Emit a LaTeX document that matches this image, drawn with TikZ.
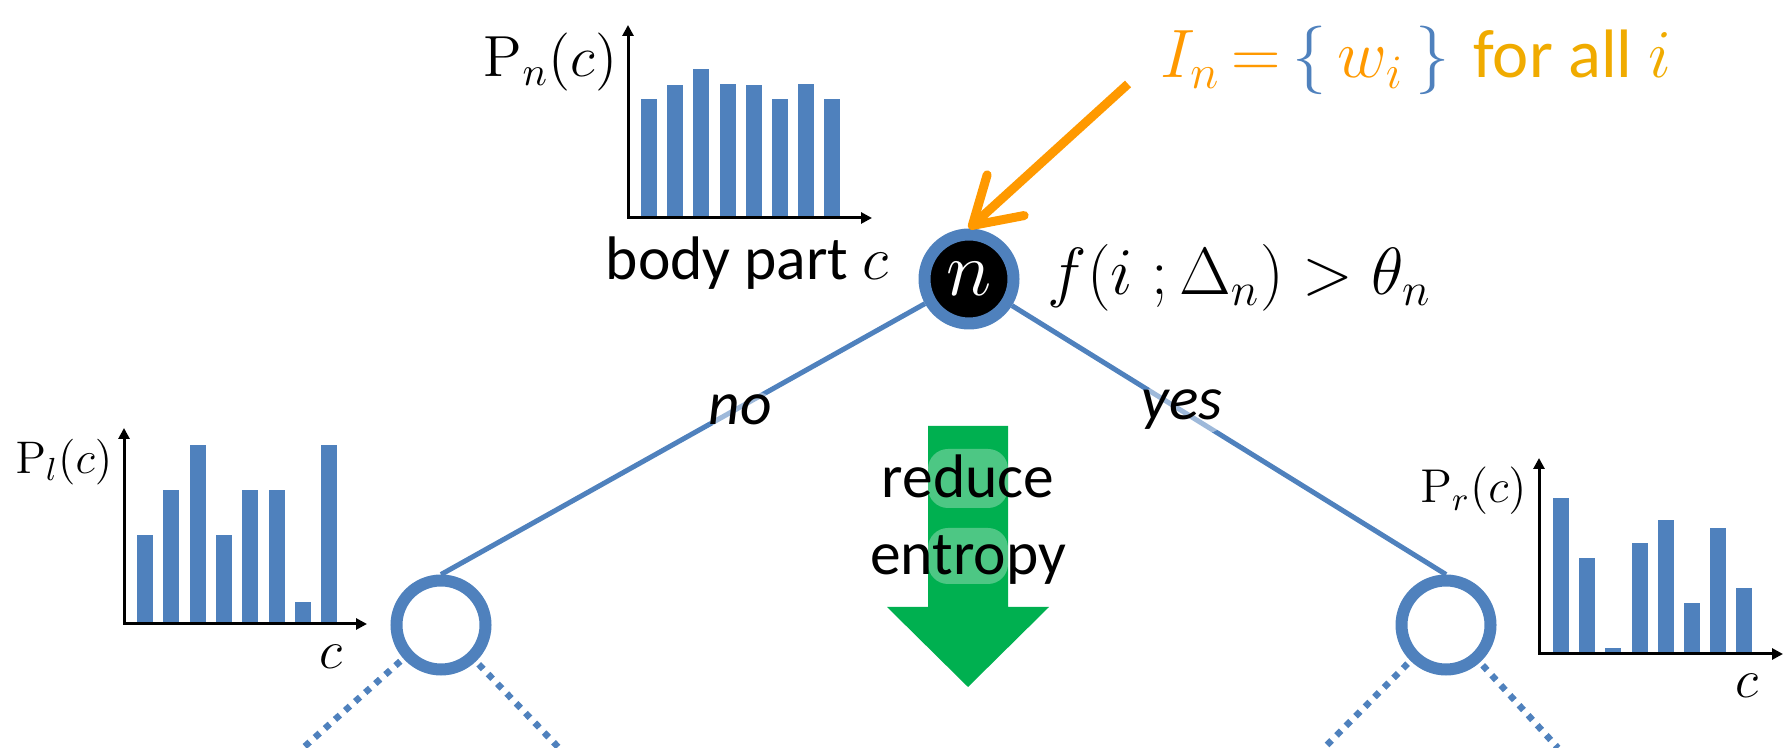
\RequirePackage{fix-cm}
\documentclass[tikz,border=0pt]{standalone}
\usepackage[no-math]{fontspec}
\setmainfont{Carlito}
\usetikzlibrary{arrows.meta}
\definecolor{nodeblue}{HTML}{4F81BD}
\definecolor{inorange}{HTML}{FF9900}
\definecolor{allamber}{HTML}{F0AB00}
\definecolor{entgreen}{HTML}{00B050}
\tikzset{
  treenode/.style={circle, draw=nodeblue, line width=1.2mm, minimum size=8.9mm, inner sep=0pt},
  branch/.style={nodeblue, line width=0.5mm},
  dotedge/.style={nodeblue, line width=0.65mm, dash pattern=on 0.65mm off 0.7mm, shorten <=0.4mm},
  histbar/.style={fill=nodeblue},
  histaxis/.style={line width=0.3mm},
  lbl/.style={inner sep=0pt},
  glow/.style={fill=white, fill opacity=0.45, text opacity=1, inner sep=1pt, rounded corners=2mm},
}
\begin{document}
\begin{tikzpicture}[x=0.1mm, y=-0.1mm, >={Triangle[length=1.1mm,width=1.1mm]}]
\useasboundingbox (0,0) rectangle (1788,748);
% histograms
\foreach \h [count=\k from 0] in {119,133,149,134,133,119,134,119}
  \fill[histbar] ({641+26.2*\k},218) rectangle ++(16,-\h);
\draw[histaxis,<->] (628,25) -- (628,218) -- (872,218);
\foreach \h [count=\k from 0] in {89,134,179,89,134,134,22,179}
  \fill[histbar] ({137+26.3*\k},624) rectangle ++(16,-\h);
\draw[histaxis,<->] (124,428) -- (124,624) -- (367,624);
\foreach \h [count=\k from 0] in {156,96,6,111,134,51,126,66}
  \fill[histbar] ({1553+26.2*\k},654) rectangle ++(16,-\h);
\draw[histaxis,<->] (1539,458) -- (1539,654) -- (1783,654);
\node[lbl, anchor=base east, font=\fontsize{16.5}{20}\selectfont] (lblPn) at (618,77) {$\mathrm{P}_n(c)$};
\node[lbl, anchor=base, font=\fontsize{17.5}{21}\selectfont] (lblBody) at (747,280) {body part $c$};
\node[lbl, anchor=base east, font=\fontsize{13}{16}\selectfont] (lblPl) at (113,474) {$\mathrm{P}_l(c)$};
\node[lbl, font=\fontsize{15.5}{18}\selectfont] (lblCl) at (331,657) {$c$};
\node[lbl, anchor=base east, font=\fontsize{13.5}{16}\selectfont] (lblPr) at (1527,503) {$\mathrm{P}_r(c)$};
\node[lbl, font=\fontsize{15.5}{18}\selectfont] (lblCr) at (1747,686) {$c$};
% reduce entropy arrow
\fill[entgreen] (928,426) -- (1008,426) -- (1008,607) -- (1049,607) -- (968,687) -- (887,607) -- (928,607) -- cycle;
\fill[white, opacity=0.3, rounded corners=2mm] (928,449) rectangle (1008,508);
\fill[white, opacity=0.3, rounded corners=2mm] (928,528) rectangle (1008,584);
\node[lbl, anchor=base, font=\fontsize{17.5}{21}\selectfont] (lblReduce) at (968,498) {reduce};
\node[lbl, anchor=base, font=\fontsize{17.5}{21}\selectfont] (lblEntropy) at (968,575) {entropy};
% tree
\node[treenode, fill=black, text=white, font=\fontsize{22}{26}\selectfont] (nodeN) at (969,279) {$n$};
\node[treenode] (nodeL) at (441,625) {};
\node[treenode] (nodeR) at (1446,625) {};
\draw[branch] (nodeN) -- (nodeL.north);
\draw[branch] (nodeN) -- (nodeR.north);
\coordinate (LL) at (303,748);
\coordinate (LR) at (559,748);
\coordinate (RL) at (1324,748);
\coordinate (RR) at (1558,748);
\draw[dotedge] (nodeL) -- (LL);
\draw[dotedge] (nodeL) -- (LR);
\draw[dotedge] (nodeR) -- (RL);
\draw[dotedge] (nodeR) -- (RR);
\node[glow, font=\fontsize{17.5}{21}\selectfont\itshape] (lblNo) at (740,410) {no};
\node[glow, font=\fontsize{17.5}{21}\selectfont\itshape] (lblYes) at (1182,410) {yes};
% split test and input
\node[lbl, anchor=base west, font=\fontsize{19}{23}\selectfont] (lblSplit) at (1047,295) {$f(i\;;\Delta_n)>\theta_n$};
\node[lbl, anchor=base west, font=\fontsize{19.5}{23}\selectfont] (lblIn) at (1160,78)
  {\textcolor{inorange}{$I_n\mkern3mu{=}\mkern3mu\textcolor{nodeblue}{\big\{}\,w_i\,\textcolor{nodeblue}{\big\}}$}\hspace{0.35em}\textcolor{allamber}{for all $i$}};
\coordinate (src) at (1128,84);
\draw[inorange, line width=0.9mm, -{Straight Barb[length=4.5mm,width=5.5mm,round]}] (src) -- (nodeN.north);
\end{tikzpicture}
\end{document}
